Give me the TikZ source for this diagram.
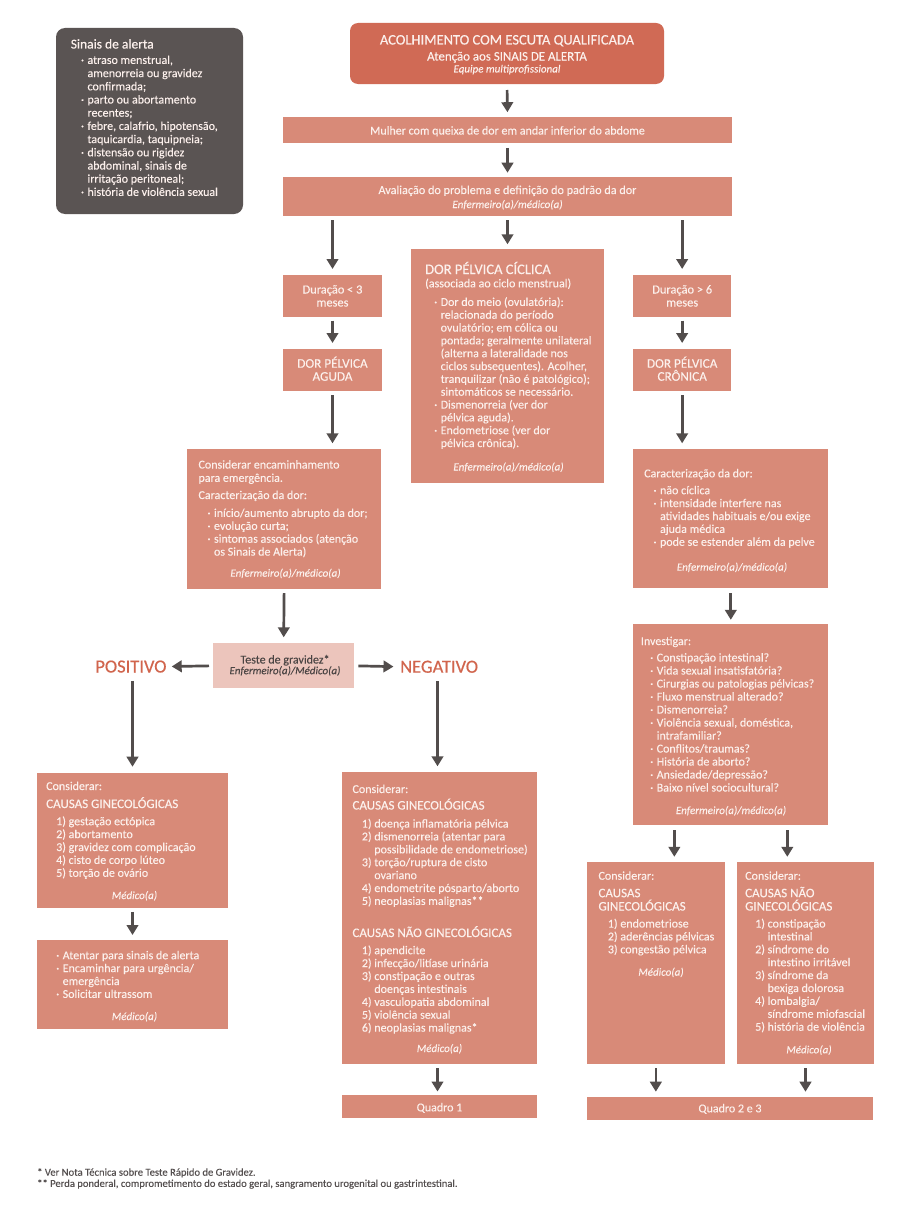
\documentclass[tikz,border=0pt]{standalone}
\usepackage{fontspec}
\setmainfont[FakeBold=0.12]{Carlito}
\newfontfamily\med[FakeBold=0.4]{Carlito}
\usetikzlibrary{arrows.meta}
\definecolor{salmon}{HTML}{D88A78}
\definecolor{topc}{HTML}{D06A55}
\definecolor{sinc}{HTML}{5A5453}
\definecolor{testec}{HTML}{ECC5BC}
\definecolor{arrc}{HTML}{524D4C}
\definecolor{posc}{HTML}{D1654D}
\definecolor{boxtxt}{HTML}{FCF0EC}
\definecolor{darktxt}{HTML}{4A4443}
\definecolor{footc}{HTML}{555050}
\newcommand\fs{\fontsize{12}{12.9}\selectfont}
\newcommand\fsi{\itshape\fontsize{11}{13}\selectfont}
\newcommand\st{\rule{0pt}{11pt}}
\newcommand\bu{\makebox[6.5pt][l]{·}}
\newcommand\ind{\hspace*{6.5pt}}
\tikzset{
  box/.style={fill=salmon, anchor=north west, inner sep=0pt, outer sep=0pt},
  txt/.style={anchor=north west, inner sep=0pt, align=left, text=boxtxt, font=\fs},
  lbl/.style={anchor=base west, inner sep=0pt, text=boxtxt, font=\fs},
  ctr/.style={anchor=base, inner sep=0pt, text=boxtxt, font=\fs},
  who/.style={anchor=base, inner sep=0pt, text=boxtxt, font=\fsi},
  head/.style={anchor=base west, inner sep=0pt, text=boxtxt, font=\med\fontsize{13}{13.3}\selectfont},
  arr/.style={draw=arrc, line width=2.7pt, -{Triangle[width=11.5pt,length=10pt]}, shorten <=4.5pt, shorten >=5.5pt},
  res/.style={inner sep=0pt, text=posc, font=\med\fontsize{18.5}{20}\selectfont},
}
\begin{document}
\begin{tikzpicture}[x=1pt,y=-1pt]
\path[use as bounding box, fill=white] (0,0) rectangle (900,1207);

% ---------- Sinais de alerta ----------
\node[box, fill=sinc, rounded corners=9pt, minimum width=187pt, minimum height=186pt] (sinais) at (56,28) {};
\node[anchor=base west, inner sep=0pt, text=boxtxt, font=\med\fontsize{13.5}{15}\selectfont] (sinaist) at (70.6,48.5) {Sinais de alerta};
\node[txt, font=\fontsize{12}{13.2}\selectfont] (sinaisl) at (80.8,52.7) {\st\bu atraso menstrual,\\
\ind amenorreia ou gravidez\\
\ind confirmada;\\
\bu parto ou abortamento\\
\ind recentes;\\
\bu febre, calafrio, hipotensão,\\
\ind taquicardia, taquipneia;\\
\bu distensão ou rigidez\\
\ind abdominal, sinais de\\
\ind irritação peritoneal;\\
\bu história de violência sexual};

% ---------- top ----------
\node[box, fill=topc, rounded corners=8pt, minimum width=314pt, minimum height=61pt] (top) at (350,23) {};
\node[ctr, font=\med\fontsize{14.5}{16}\selectfont] (topt1) at (507,44.5) {ACOLHIMENTO COM ESCUTA QUALIFICADA};
\node[ctr, font=\fontsize{12.9}{14}\selectfont] (topt2) at (507,60.5) {Atenção aos SINAIS DE ALERTA};
\node[who] (topt3) at (507,72.5) {Equipe multiprofissional};

\node[box, minimum width=449pt, minimum height=26.6pt] (mulher) at (283,116.7) {};
\node[ctr] (mulhert) at (507.5,134.5) {Mulher com queixa de dor em andar inferior do abdome};

\node[box, minimum width=449pt, minimum height=39.3pt] (aval) at (283,176.7) {};
\node[ctr, font=\fontsize{12.2}{13}\selectfont] (avalt) at (507.5,194) {Avaliação do problema e definição do padrão da dor};
\node[who] (avalw) at (507.5,208) {Enfermeiro(a)/médico(a)};

% ---------- left column ----------
\node[box, minimum width=99pt, minimum height=41.7pt] (dur3) at (283,275) {};
\node[txt, anchor=north, align=center, font=\fontsize{12.4}{13}\selectfont] (dur3t) at (332.5,282.3) {\st Duração < 3\\meses};
\node[box, minimum width=99pt, minimum height=41.7pt] (aguda) at (283,349) {};
\node[txt, anchor=north, align=center, font=\fontsize{13.2}{13}\selectfont] (agudat) at (332.5,356.5) {\st DOR PÉLVICA\\AGUDA};

\node[box, minimum width=193.7pt, minimum height=139.4pt] (enc) at (187.3,449.3) {};
\node[txt, font=\fontsize{12}{13.3}\selectfont] (enct) at (198.3,457.3) {\st Considerar encaminhamento\\para emergência.};
\node[lbl] (encc) at (198.3,499) {Caracterização da dor:};
\node[txt] (encl) at (207.3,505.7) {\st\bu início/aumento abrupto da dor;\\
\bu evolução curta;\\
\bu sintomas associados (atenção\\
\ind os Sinais de Alerta)};
\node[who] (encw) at (285.5,576.7) {Enfermeiro(a)/médico(a)};

\node[box, fill=testec, minimum width=140.7pt, minimum height=45pt] (teste) at (213.3,643.3) {};
\node[ctr, text=darktxt] (testet) at (285,663.5) {Teste de gravidez*};
\node[who, text=darktxt] (testew) at (285,674.2) {Enfermeiro(a)/Médico(a)};

\node[res, anchor=base east] (pos) at (166.7,672.5) {POSITIVO};
\node[res, anchor=base west] (neg) at (400,672.7) {NEGATIVO};

\node[box, minimum width=191.6pt, minimum height=135.6pt] (cl1) at (36.7,772.7) {};
\node[lbl] (cl1c) at (46,790) {Considerar:};
\node[head] (cl1h) at (46,808) {CAUSAS GINECOLÓGICAS};
\node[txt] (cl1l) at (56,814) {\st 1) gestação ectópica\\
2) abortamento\\
3) gravidez com complicação\\
4) cisto de corpo lúteo\\
5) torção de ovário};
\node[who] (cl1w) at (134.5,899) {Médico(a)};

\node[box, minimum width=191.6pt, minimum height=89.3pt] (cl2) at (36.7,940) {};
\node[txt] (cl2l) at (56,948) {\st\bu Atentar para sinais de alerta\\
\bu Encaminhar para urgência/\\
\ind emergência\\
\bu Solicitar ultrassom};
\node[who] (cl2w) at (134.5,1020) {Médico(a)};

% ---------- middle ----------
\node[box, minimum width=193.6pt, minimum height=234pt] (cic) at (410.7,249.3) {};
\node[anchor=base west, inner sep=0pt, text=boxtxt, font=\med\fontsize{14.5}{16}\selectfont] (cict) at (425,274) {DOR PÉLVICA CÍCLICA};
\node[lbl] (cics) at (425,287.3) {(associada ao ciclo menstrual)};
\node[txt, font=\fontsize{12}{12.83}\selectfont] (cicl) at (434,294.7) {\st\bu Dor do meio (ovulatória):\\
\ind relacionada do período\\
\ind ovulatório; em cólica ou\\
\ind pontada; geralmente unilateral\\
\ind (alterna a lateralidade nos\\
\ind ciclos subsequentes). Acolher,\\
\ind tranquilizar (não é patológico);\\
\ind sintomáticos se necessário.\\
\bu Dismenorreia (ver dor\\
\ind pélvica aguda).\\
\bu Endometriose (ver dor\\
\ind pélvica crônica).};
\node[who] (cicw) at (508.5,470.5) {Enfermeiro(a)/médico(a)};

\node[box, minimum width=194.4pt, minimum height=291.7pt] (mid) at (342.3,772.3) {};
\node[lbl] (midc) at (352.3,793) {Considerar:};
\node[head] (midh1) at (352.3,809.5) {CAUSAS GINECOLÓGICAS};
\node[txt] (midl1) at (361.7,816.3) {\st 1) doença inflamatória pélvica\\
2) dismenorreia (atentar para\\
\hphantom{2) }possibilidade de endometriose)\\
3) torção/ruptura de cisto\\
\hphantom{3) }ovariano\\
4) endometrite pósparto/aborto\\
5) neoplasias malignas**};
\node[head] (midh2) at (352.3,937) {CAUSAS NÃO GINECOLÓGICAS};
\node[txt] (midl2) at (361.7,943) {\st 1) apendicite\\
2) infecção/litíase urinária\\
3) constipação e outras\\
\hphantom{3) }doenças intestinais\\
4) vasculopatia abdominal\\
5) violência sexual\\
6) neoplasias malignas*};
\node[who] (midw) at (439.5,1052) {Médico(a)};

\node[box, minimum width=194.4pt, minimum height=23.3pt] (q1) at (342.3,1095) {};
\node[ctr] (q1t) at (439.5,1111.3) {Quadro 1};

% ---------- right column ----------
\node[box, minimum width=97.7pt, minimum height=41.7pt] (dur6) at (633.3,275) {};
\node[txt, anchor=north, align=center, font=\fontsize{12.4}{13}\selectfont] (dur6t) at (682.2,282.3) {\st Duração > 6\\meses};
\node[box, minimum width=97.7pt, minimum height=41.7pt] (cron) at (633.3,349) {};
\node[txt, anchor=north, align=center, font=\fontsize{13.2}{13}\selectfont] (cront) at (682.2,356.5) {\st DOR PÉLVICA\\CRÔNICA};

\node[box, minimum width=195pt, minimum height=139pt] (carr) at (633.3,449.3) {};
\node[lbl] (carrc) at (644,477.3) {Caracterização da dor:};
\node[txt] (carrl) at (653.3,483) {\st\bu não cíclica\\
\bu intensidade interfere nas\\
\ind atividades habituais e/ou exige\\
\ind ajuda médica\\
\bu pode se estender além da pelve};
\node[who] (carrw) at (732,570.7) {Enfermeiro(a)/médico(a)};

\node[box, minimum width=195pt, minimum height=200.7pt] (inv) at (633.3,624.3) {};
\node[lbl] (invc) at (640.7,645) {Investigar:};
\node[txt, font=\fontsize{12}{13}\selectfont] (invl) at (650,650.3) {\st\bu Constipação intestinal?\\
\bu Vida sexual insatisfatória?\\
\bu Cirurgias ou patologias pélvicas?\\
\bu Fluxo menstrual alterado?\\
\bu Dismenorreia?\\
\bu Violência sexual, doméstica,\\
\ind intrafamiliar?\\
\bu Conflitos/traumas?\\
\bu História de aborto?\\
\bu Ansiedade/depressão?\\
\bu Baixo nível sociocultural?};
\node[who] (invw) at (731,814) {Enfermeiro(a)/médico(a)};

\node[box, minimum width=138.3pt, minimum height=201.7pt] (cl3) at (586.7,862.3) {};
\node[lbl] (cl3c) at (598.3,879.7) {Considerar:};
\node[txt, font=\med\fontsize{13}{13.3}\selectfont] (cl3h) at (598.3,886) {\st CAUSAS\\GINECOLÓGICAS};
\node[txt] (cl3l) at (607.7,916.3) {\st 1) endometriose\\
2) aderências pélvicas\\
3) congestão pélvica};
\node[who] (cl3w) at (661,975.7) {Médico(a)};

\node[box, minimum width=137.6pt, minimum height=201.7pt] (cl4) at (736.7,862.3) {};
\node[lbl] (cl4c) at (745,879.7) {Considerar:};
\node[txt, font=\med\fontsize{13}{13.3}\selectfont] (cl4h) at (745,886) {\st CAUSAS NÃO\\GINECOLÓGICAS};
\node[txt] (cl4l) at (755,916.3) {\st 1) constipação\\
\hphantom{1) }intestinal\\
2) síndrome do\\
\hphantom{2) }intestino irritável\\
3) síndrome da\\
\hphantom{3) }bexiga dolorosa\\
4) lombalgia/\\
\hphantom{4) }síndrome miofascial\\
5) história de violência};
\node[who] (cl4w) at (809,1053.3) {Médico(a)};

\node[box, minimum width=286.6pt, minimum height=23.3pt] (q23) at (586.7,1096.7) {};
\node[ctr] (q23t) at (730,1112.3) {Quadro 2 e 3};

% ---------- footer ----------
\node[txt, text=footc, font=\fontsize{10.6}{11.2}\selectfont] (foot) at (37,1164.5) {\st * Ver Nota Técnica sobre Teste Rápido de Gravidez.\\
** Perda ponderal, comprometimento do estado geral, sangramento urogenital ou gastrintestinal.};

% ---------- arrows ----------
\draw[arr, shorten <=6pt, shorten >=4.5pt] (top.south) -- (mulher.north);
\draw[arr, shorten >=4pt] (mulher.south) -- (aval.north);
\draw[arr, shorten <=4pt, shorten >=6pt] (aval.south -| dur3.north) -- (dur3.north);
\draw[arr, shorten <=4pt, shorten >=5pt] (aval.south -| cic.north) -- (cic.north);
\draw[arr, shorten <=4pt, shorten >=6pt] (aval.south -| dur6.north) -- (dur6.north);
\draw[arr, shorten <=4pt, shorten >=6pt] (dur3.south) -- (aguda.north);
\draw[arr, shorten <=4pt, shorten >=6pt] (dur6.south) -- (cron.north);
\draw[arr, shorten <=4.5pt, shorten >=6pt] (aguda.south) -- (aguda.south |- enc.north);
\draw[arr, shorten <=4.5pt, shorten >=6pt] (cron.south) -- (cron.south |- carr.north);
\draw[arr, shorten <=4.5pt, shorten >=6pt] (enc.south) -- (teste.north);
\draw[arr, shorten <=4.3pt, shorten >=5pt] (teste.west) -- (pos.east);
\draw[arr, shorten <=4.3pt, shorten >=6.5pt] (teste.east) -- (neg.west);
\draw[arr, shorten <=8pt, shorten >=6pt] (cl1.north |- pos.south) -- (cl1.north);
\draw[arr, shorten <=8pt, shorten >=6pt] ([xshift=-2pt]mid.north |- neg.south) -- ([xshift=-2pt]mid.north);
\draw[arr, shorten <=3.5pt, shorten >=5pt] (cl1.south) -- (cl2.north);
\draw[arr, shorten <=4.3pt, shorten >=3.5pt] ([xshift=-2pt]mid.south) -- ([xshift=-2pt]mid.south |- q1.north);
\draw[arr, shorten <=5pt, shorten >=4.5pt] (carr.south) -- (inv.north);
\draw[arr, shorten <=5pt, shorten >=5.5pt] ([xshift=18.5pt]cl3.north |- inv.south) -- ([xshift=18.5pt]cl3.north);
\draw[arr, shorten <=5pt, shorten >=5.5pt] ([xshift=-18.2pt]cl4.north |- inv.south) -- ([xshift=-18.2pt]cl4.north);
\draw[arr, shorten <=4.3pt, shorten >=5pt] (cl3.south) -- (cl3.south |- q23.north);
\draw[arr, shorten <=4.3pt, shorten >=5pt] (cl4.south) -- (cl4.south |- q23.north);
\end{tikzpicture}
\end{document}
